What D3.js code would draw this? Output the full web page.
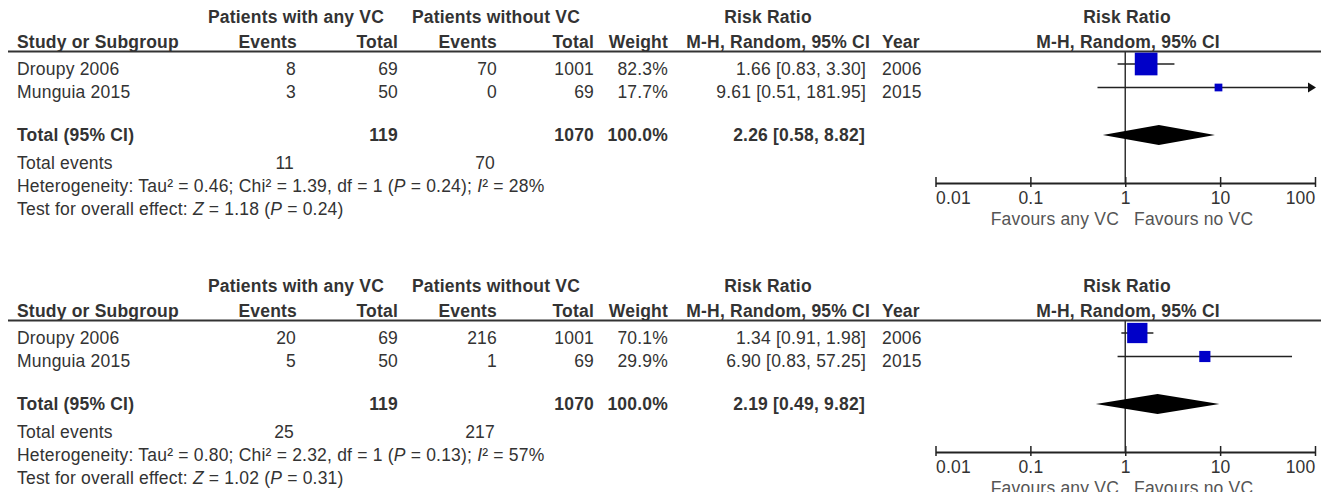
<!DOCTYPE html>
<html>
<head>
<meta charset="utf-8">
<script src="https://cdn.jsdelivr.net/npm/d3@7"></script>
<style>
body { margin: 0; background: #fff; }
svg { display: block; font-family: "Liberation Sans", Arial, sans-serif; letter-spacing: 0.2px; }
</style>
</head>
<body>
<div id="chart"></div>
<script>
// shared study info
var studies = ["Droupy 2006", "Munguia 2015"];
var years = ["2006", "2015"];
var totalAny = [69, 50];
var totalNo = [1001, 69];

// analysis 1 (top)
var eventsAny1 = [8, 3];
var eventsNo1 = [70, 0];
var weight1 = [82.3, 17.7];
var rr1 = [1.66, 9.61];
var lower1 = [0.83, 0.51];
var upper1 = [3.30, 181.95];
var pooled1 = [2.26, 0.58, 8.82];
var hetero1 = ["0.46", "1.39", "1", "0.24", "28"];
var overall1 = ["1.18", "0.24"];

// analysis 2 (bottom)
var eventsAny2 = [20, 5];
var eventsNo2 = [216, 1];
var weight2 = [70.1, 29.9];
var rr2 = [1.34, 6.90];
var lower2 = [0.91, 0.83];
var upper2 = [1.98, 57.25];
var pooled2 = [2.19, 0.49, 9.82];
var hetero2 = ["0.80", "2.32", "1", "0.13", "57"];
var overall2 = ["1.02", "0.31"];

// axis
var ticks = [0.01, 0.1, 1, 10, 100];
var tickLabels = ["0.01", "0.1", "1", "10", "100"];

var width = 1327, height = 492;
var textColor = "#333";
var fs = 17.5;

var svg = d3.select("#chart").append("svg")
  .attr("width", width).attr("height", height);

var x = d3.scaleLog().domain([0.01, 100]).range([935.5, 1315]);
var boxSize = d3.scalePow().exponent(0.7).domain([0, 100]).range([0, 26]);
var f2 = d3.format(".2f");

function txt(g, s, xx, yy, anchor, bold, color) {
  return g.append("text")
    .attr("x", xx).attr("y", yy)
    .attr("text-anchor", anchor || "start")
    .attr("font-weight", bold ? "bold" : "normal")
    .attr("font-size", fs)
    .attr("fill", color || textColor)
    .text(s);
}

function drawPanel(offset, eventsAny, eventsNo, weight, rr, lower, upper, pooled, hetero, overall) {
  var g = svg.append("g").attr("transform", "translate(0," + offset + ")");

  // headers
  txt(g, "Patients with any VC", 296, 23, "middle", true);
  txt(g, "Patients without VC", 496, 23, "middle", true);
  txt(g, "Risk Ratio", 768, 23, "middle", true);
  txt(g, "Risk Ratio", 1127, 23, "middle", true);
  txt(g, "Study or Subgroup", 17, 48, "start", true);
  txt(g, "Events", 297, 48, "end", true);
  txt(g, "Total", 398, 48, "end", true);
  txt(g, "Events", 497, 48, "end", true);
  txt(g, "Total", 594, 48, "end", true);
  txt(g, "Weight", 668, 48, "end", true);
  txt(g, "M-H, Random, 95% CI", 870, 48, "end", true);
  txt(g, "Year", 882, 48, "start", true);
  txt(g, "M-H, Random, 95% CI", 1128, 48, "middle", true);

  g.append("line")
    .attr("x1", 8).attr("x2", 1321).attr("y1", 51.5).attr("y2", 51.5)
    .attr("stroke", "#333").attr("stroke-width", 2);

  // study rows
  var rowY = [75, 98];
  var plotY = [64, 87.5];
  studies.forEach(function(s, i) {
    txt(g, s, 17, rowY[i]);
    txt(g, eventsAny[i], 296, rowY[i], "end");
    txt(g, totalAny[i], 398, rowY[i], "end");
    txt(g, eventsNo[i], 497, rowY[i], "end");
    txt(g, totalNo[i], 594, rowY[i], "end");
    txt(g, weight[i].toFixed(1) + "%", 668, rowY[i], "end");
    txt(g, f2(rr[i]) + " [" + f2(lower[i]) + ", " + f2(upper[i]) + "]", 866, rowY[i], "end");
    txt(g, years[i], 882, rowY[i], "start");
  });

  // total row
  txt(g, "Total (95% CI)", 17, 141, "start", true);
  txt(g, d3.sum(totalAny), 398, 141, "end", true);
  txt(g, d3.sum(totalNo), 594, 141, "end", true);
  txt(g, d3.sum(weight).toFixed(1) + "%", 668, 141, "end", true);
  txt(g, f2(pooled[0]) + " [" + f2(pooled[1]) + ", " + f2(pooled[2]) + "]", 865, 141, "end", true);

  txt(g, "Total events", 17, 169);
  txt(g, d3.sum(eventsAny), 294, 169, "end");
  txt(g, d3.sum(eventsNo), 495, 169, "end");

  var t = txt(g, "", 17, 192);
  t.append("tspan").text("Heterogeneity: Tau\u00b2 = " + hetero[0] + "; Chi\u00b2 = " + hetero[1] + ", df = " + hetero[2] + " (");
  t.append("tspan").attr("font-style", "italic").text("P");
  t.append("tspan").text(" = " + hetero[3] + "); ");
  t.append("tspan").attr("font-style", "italic").text("I");
  t.append("tspan").text("\u00b2 = " + hetero[4] + "%");

  var t2 = txt(g, "", 17, 215);
  t2.append("tspan").text("Test for overall effect: ");
  t2.append("tspan").attr("font-style", "italic").text("Z");
  t2.append("tspan").text(" = " + overall[0] + " (");
  t2.append("tspan").attr("font-style", "italic").text("P");
  t2.append("tspan").text(" = " + overall[1] + ")");

  // forest plot
  var axisY = 183;
  g.append("line")
    .attr("x1", x(1)).attr("x2", x(1)).attr("y1", 51.5).attr("y2", axisY)
    .attr("stroke", "#333").attr("stroke-width", 1.5);

  var maxX = x.range()[1];
  studies.forEach(function(s, i) {
    var hiX = Math.min(x(upper[i]), maxX);
    var arrow = x(upper[i]) > maxX;
    g.append("line")
      .attr("x1", x(lower[i])).attr("x2", arrow ? hiX - 6 : hiX)
      .attr("y1", plotY[i]).attr("y2", plotY[i])
      .attr("stroke", "#222").attr("stroke-width", 1.5);
    if (arrow) {
      g.append("path")
        .attr("d", "M" + (hiX - 7) + "," + (plotY[i] - 5) + "L" + (hiX + 1) + "," + plotY[i] + "L" + (hiX - 7) + "," + (plotY[i] + 5) + "Z")
        .attr("fill", "#111");
    }
    var b = boxSize(weight[i]);
    g.append("rect")
      .attr("x", x(rr[i]) - b / 2).attr("y", plotY[i] - b / 2)
      .attr("width", b).attr("height", b)
      .attr("fill", "#0000c8");
  });

  var dy = 135;
  g.append("path")
    .attr("d", "M" + x(pooled[1]) + "," + dy + "L" + x(pooled[0]) + "," + (dy - 10) +
      "L" + x(pooled[2]) + "," + dy + "L" + x(pooled[0]) + "," + (dy + 10) + "Z")
    .attr("fill", "#000");

  var axis = d3.axisBottom(x).tickValues(ticks)
    .tickFormat(function(d, i) { return tickLabels[i]; })
    .tickSizeInner(4).tickSizeOuter(0);
  var ga = g.append("g").attr("transform", "translate(0," + axisY + ")").call(axis)
    .attr("font-family", null).attr("font-size", null);
  ga.select(".domain").attr("stroke", "#222").attr("stroke-width", 2);
  ga.selectAll(".tick line").attr("y1", -6).attr("y2", 4).attr("stroke", "#222").attr("stroke-width", 1.5);
  ga.selectAll(".tick text")
    .attr("y", 21).attr("dy", null)
    .attr("font-size", fs).attr("fill", textColor)
    .attr("text-anchor", function(d, i) { return i == 0 ? "start" : (i == ticks.length - 1 ? "end" : "middle"); });

  txt(g, "Favours any VC", 1119, 225, "end", false, "#555");
  txt(g, "Favours no VC", 1134, 225, "start", false, "#555");
}

drawPanel(0, eventsAny1, eventsNo1, weight1, rr1, lower1, upper1, pooled1, hetero1, overall1);
drawPanel(269, eventsAny2, eventsNo2, weight2, rr2, lower2, upper2, pooled2, hetero2, overall2);
</script>
</body>
</html>
